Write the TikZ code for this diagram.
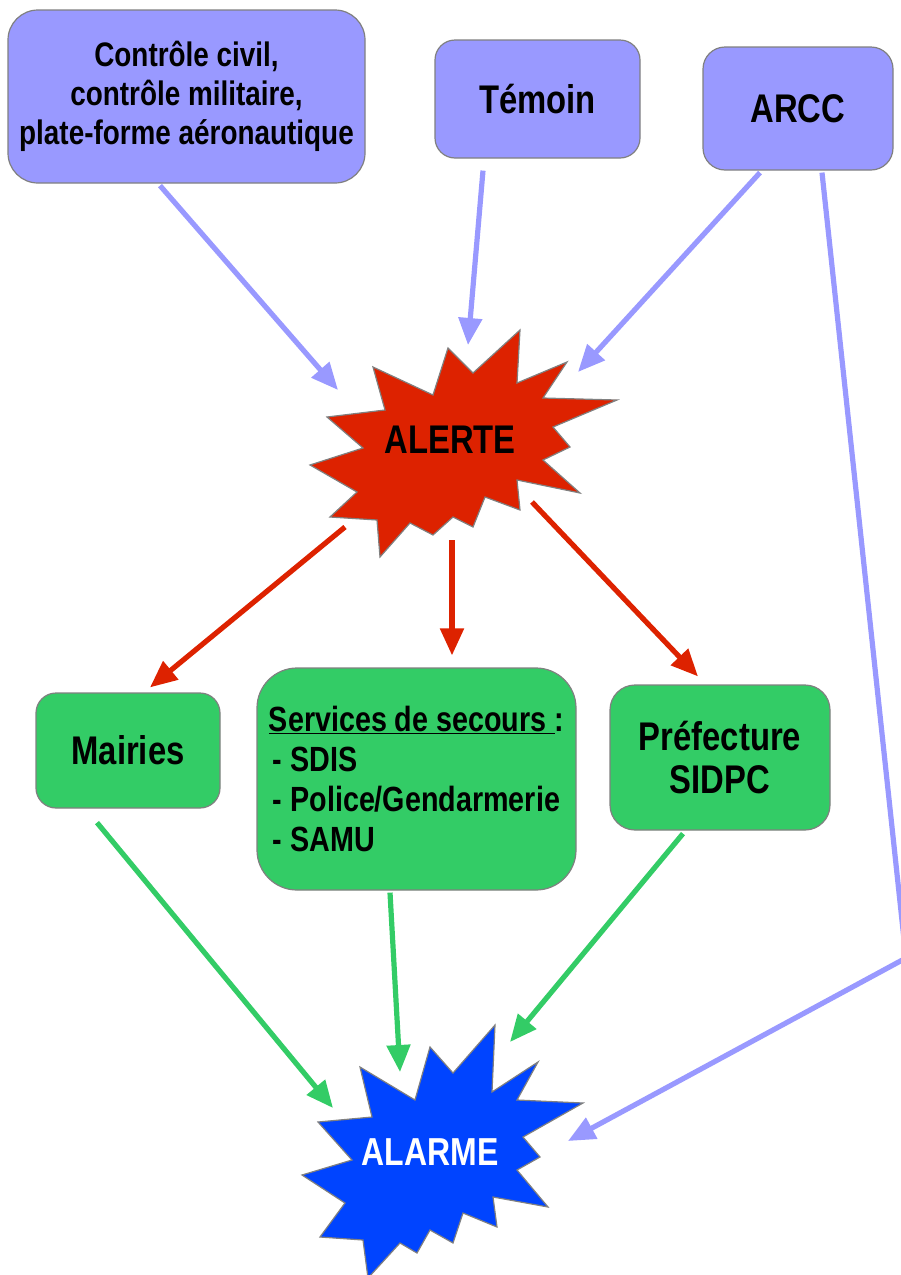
\documentclass[tikz,border=0pt]{standalone}
\usepackage{fontspec}
\setmainfont{Liberation Sans}[FakeStretch=0.82]
\usetikzlibrary{arrows.meta}
\definecolor{lav}{RGB}{153,153,255}
\definecolor{grn}{RGB}{51,204,102}
\definecolor{redst}{RGB}{221,34,0}
\definecolor{bluest}{RGB}{0,68,255}
\definecolor{bord}{RGB}{128,128,128}
\begin{document}
\begin{tikzpicture}[x=1pt,y=-1pt,
  box/.style={draw=bord, line width=1.2pt, align=center, inner sep=0pt, text=black},
  lavbox/.style={box, fill=lav},
  grnbox/.style={box, fill=grn},
  star/.style={draw=bord, line width=1.2pt},
  conn/.style={line width=5.2pt, -{Triangle[length=27pt,width=23pt]}},
  bconn/.style={conn, draw=lav},
  rconn/.style={conn, draw=redst},
  gconn/.style={conn, draw=grn}
]
\clip (0,0) rectangle (901,1275);

% top boxes
\node[lavbox, minimum width=357pt, minimum height=173pt, rounded corners=30pt,
  font=\fontsize{34}{39}\selectfont\bfseries] (civil) at (186.5,96.5)
  {Contrôle civil,\\contrôle militaire,\\plate-forme aéronautique};
\node[lavbox, minimum width=205pt, minimum height=118pt, rounded corners=20pt,
  font=\fontsize{40}{44}\selectfont\bfseries] (temoin) at (537.5,99) {Témoin};
\node[lavbox, minimum width=190pt, minimum height=123pt, rounded corners=22pt,
  font=\fontsize{40}{44}\selectfont\bfseries] (arcc) at (798,108.5) {ARCC};

% green boxes
\node[grnbox, minimum width=184pt, minimum height=115pt, rounded corners=20pt,
  font=\fontsize{40}{44}\selectfont\bfseries] (mairies) at (128,750.5) {Mairies};
\node[grnbox, minimum width=319pt, minimum height=222pt, rounded corners=40pt,
  font=\fontsize{35}{40}\selectfont\bfseries, align=left] (secours) at (416.5,779)
  {\underline{Services de secours\ }:\\
   \hspace*{4pt}- SDIS\\
   \hspace*{4pt}- Police/Gendarmerie\\
   \hspace*{4pt}- SAMU};
\node[grnbox, minimum width=220pt, minimum height=145pt, rounded corners=25pt,
  font=\fontsize{40}{43}\selectfont\bfseries] (pref) at (720,757.5) {Préfecture\\SIDPC};

% ALERTE star
\filldraw[star, fill=redst] (520,330) -- (473,373) -- (448,348) -- (433,395) -- (373,367)
  -- (385,410) -- (327,417) -- (363,448) -- (310,465) -- (357,492) -- (330,517)
  -- (377,520) -- (380,557) -- (410,523) -- (433,535) -- (453,517) -- (473,527)
  -- (485,497) -- (520,510) -- (517,480) -- (580,493) -- (543,460) -- (570,447)
  -- (553,427) -- (617,400) -- (543,398) -- (567,362) -- (517,383) -- cycle;
\node[font=\fontsize{40}{44}\selectfont\bfseries, text=black] (alerte) at (450,440) {ALERTE};

% ALARME star
\filldraw[star, fill=bluest] (495,1025) -- (453,1073) -- (430,1047) -- (415,1100)
  -- (360,1067) -- (372,1117) -- (318,1122) -- (352,1160) -- (302,1175) -- (345,1203)
  -- (320,1237) -- (363,1240) -- (368,1278) -- (400,1243) -- (417,1253) -- (430,1230)
  -- (453,1243) -- (463,1213) -- (497,1227) -- (493,1197) -- (548,1207) -- (517,1170)
  -- (540,1157) -- (523,1137) -- (583,1103) -- (517,1100) -- (538,1062) -- (492,1092)
  -- cycle;
\node[font=\fontsize{39}{44}\selectfont\bfseries, text=white] (alarme) at (430,1152) {ALARME};

% blue connectors
\draw[bconn] ([shift={(-26.5,2)}]civil.south) -- ([shift={(-112,-50)}]alerte.center);
\draw[bconn] ([shift={(-54.5,12)}]temoin.south) -- ([shift={(18,-95)}]alerte.center);
\draw[bconn] ([shift={(-38,2)}]arcc.south) -- ([shift={(128,-68)}]alerte.center);
\coordinate (bend) at (906,958);
\draw[bconn, line join=round] ([shift={(24,2)}]arcc.south) -- (bend) -- ([shift={(138,-11)}]alarme.center);

% red connectors
\draw[rconn] ([shift={(-105,87)}]alerte.center) -- ([shift={(22,-5)}]mairies.north);
\draw[rconn] ([shift={(2,100)}]alerte.center) -- ([shift={(35.5,-12)}]secours.north);
\draw[rconn] ([shift={(82,62)}]alerte.center) -- ([shift={(-22,-8)}]pref.north);

% green connectors
\draw[gconn] ([shift={(-31,14)}]mairies.south) -- ([shift={(-97,-44)}]alarme.center);
\draw[gconn] ([shift={(-26.5,2)}]secours.south) -- ([shift={(-30,-80)}]alarme.center);
\draw[gconn] ([shift={(-37,3)}]pref.south) -- ([shift={(80,-110)}]alarme.center);
\end{tikzpicture}
\end{document}
